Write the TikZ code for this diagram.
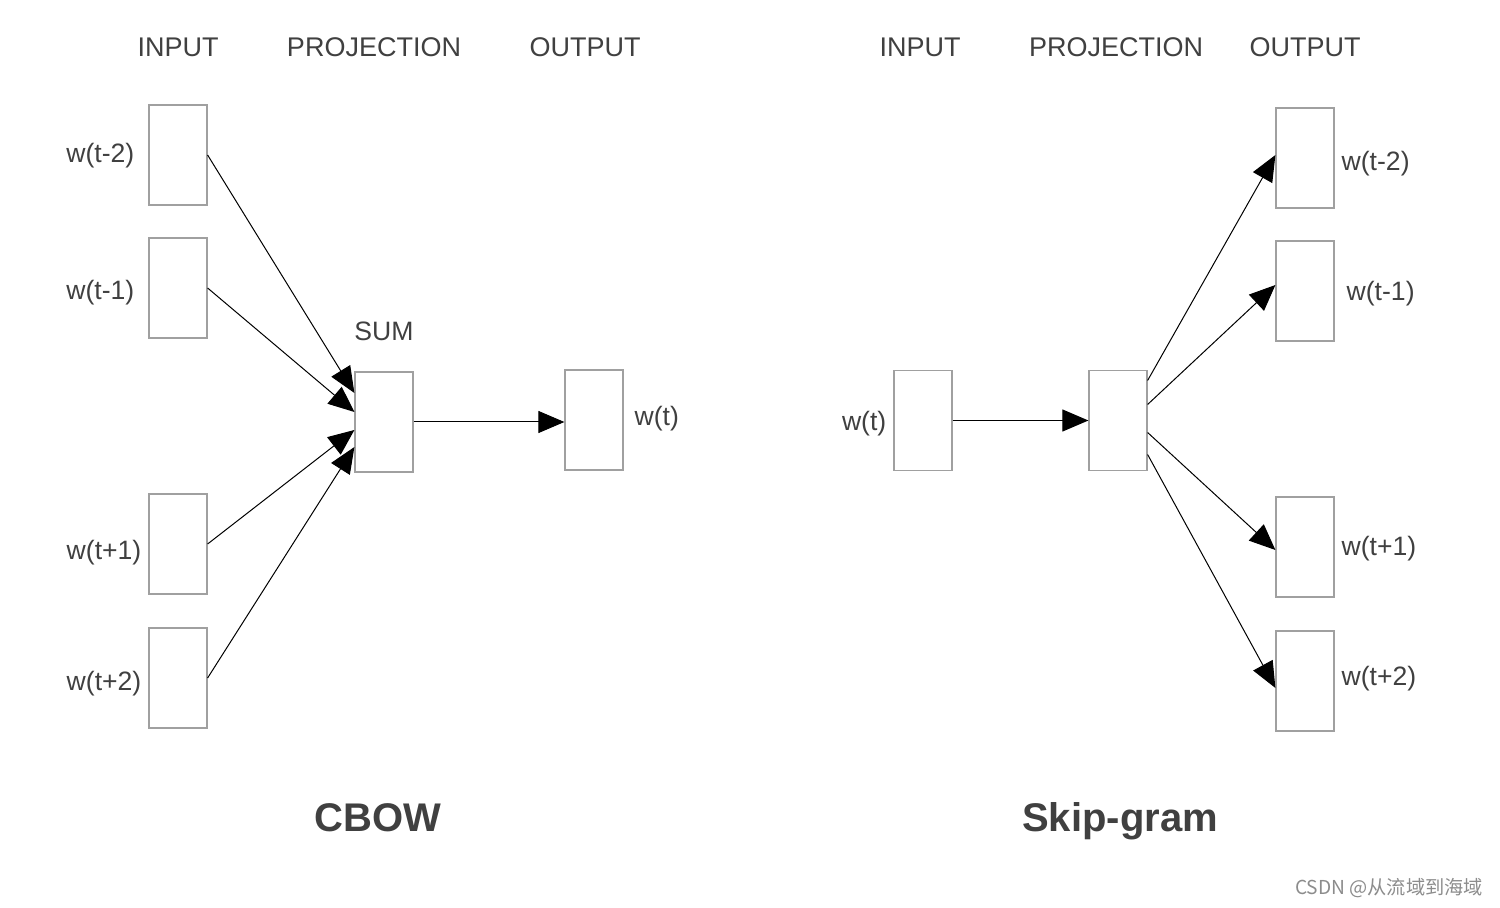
\documentclass[tikz,border=0pt]{standalone}
\usepackage{fontspec}
\setmainfont{Liberation Sans}
\newfontfamily\cjkfont{Noto Sans CJK SC}
\usetikzlibrary{positioning}
\usetikzlibrary{arrows.meta}
\definecolor{textgray}{HTML}{404040}
\definecolor{boxgray}{HTML}{A0A0A0}
\tikzset{
    % Solid triangular heads, as in the original figure
    >={Triangle[length=13pt, width=11pt]},
%
    % One word vector
    word box/.style={
        draw=boxgray, fill=white, line width=0.6pt,
        minimum width=29pt, minimum height=50pt, inner sep=0},
%
    % Column headings and the labels beside the boxes
    heading/.style={text=textgray, font=\fontsize{13.5}{16}\selectfont},
    word label/.style={text=textgray, font=\fontsize{13.3}{16}\selectfont},
    model name/.style={text=textgray, font=\fontsize{20}{24}\selectfont\bfseries},
%
    % Thin black connectors
    link/.style={draw, line width=0.5pt, ->}}

\begin{document}
\begin{tikzpicture}[x=0.5pt, y=-0.5pt]

\useasboundingbox (0,0) rectangle (1500,908);

% CBOW

\node [heading] (cbow input head) at (178,47) {INPUT};
\node [heading] (cbow proj head) at (374,47) {PROJECTION};
\node [heading] (cbow output head) at (585,47) {OUTPUT};

\node [word box, label={[word label, xshift=-3.5pt, yshift=-0.5pt]left:w(t-2)}]
    (cbow in1) at (178,155) {};
\node [word box, label={[word label, xshift=-3.5pt, yshift=-2.5pt]left:w(t-1)}]
    (cbow in2) at (178,288) {};
\node [word box, label={[word label, yshift=-4.5pt]left:w(t+1)}]
    (cbow in3) at (178,544) {};
\node [word box, label={[word label, yshift=-3pt]left:w(t+2)}]
    (cbow in4) at (178,678) {};

\node [word box, label={[word label, yshift=12pt]above:SUM}] (sum) at (384,422) {};
\node [word box, label={[word label, xshift=2pt, yshift=0.5pt]right:w(t)}]
    (cbow out) at (594,420) {};

\draw [link] (cbow in1.east) -- ([yshift=14.5pt]sum.west);
\draw [link] (cbow in2.east) -- ([yshift=5pt]sum.west);
\draw [link] (cbow in3.east) -- ([yshift=-4pt]sum.west);
\draw [link] (cbow in4.east) -- ([yshift=-12.5pt]sum.west);
\draw [link] (sum.east) -- (sum.east -| cbow out.west);

\node [model name] (cbow name) at (378,818) {CBOW};

% Skip-gram

\node [heading] (sg input head) at (920,47) {INPUT};
\node [heading] (sg proj head) at (1116,47) {PROJECTION};
\node [heading] (sg output head) at (1305,47) {OUTPUT};

\node [word box, label={[word label, yshift=-1.5pt]left:w(t)}] (sg in) at (923,420.5) {};
\node [word box] (sg proj) at (1118,420.5) {};

\node [word box, label={[word label, yshift=-3pt]right:w(t-2)}] (sg out1) at (1305,158) {};
\node [word box, label={[word label, xshift=2.5pt, yshift=-1.5pt]right:w(t-1)}]
    (sg out2) at (1305,291) {};
\node [word box, label={[word label, yshift=-1pt]right:w(t+1)}] (sg out3) at (1305,547) {};
\node [word box, label={[word label, yshift=1pt]right:w(t+2)}] (sg out4) at (1305,681) {};

\draw [link] (sg in.east) -- (sg proj.west);
\draw [link] ([yshift=20pt]sg proj.east) -- ([yshift=1.5pt]sg out1.west);
\draw [link] ([yshift=8pt]sg proj.east) -- ([yshift=3pt]sg out2.west);
\draw [link] ([yshift=-6pt]sg proj.east) -- ([yshift=-1.5pt]sg out3.west);
\draw [link] ([yshift=-17pt]sg proj.east) -- ([yshift=-3.5pt]sg out4.west);

\node [model name, yshift=-1.5pt] (sg name) at (1120,818) {Skip-gram};

\node [text=black!45, font=\fontsize{9.6}{11}\selectfont\cjkfont]
    (watermark) at (1389,888) {CSDN @从流域到海域};

\end{tikzpicture}
\end{document}
